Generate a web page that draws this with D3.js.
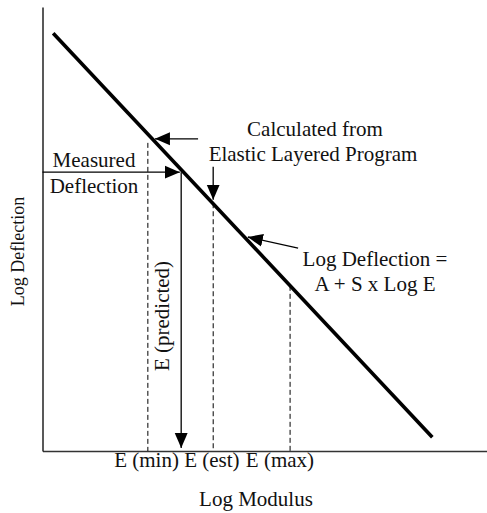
<!DOCTYPE html>
<html>
<head>
<meta charset="utf-8">
<script src="https://cdn.jsdelivr.net/npm/d3@7"></script>
</head>
<body style="margin:0">
<svg id="chart" width="487" height="513"></svg>
<script>
// ---- data (abstract log units) ----
const xDomain = [0, 10];
const yDomain = [0, 10];
const fitLineX = [0.24, 8.77];
const fitLineY = [9.41, 0.31];
const dashedX = [2.37, 3.84, 5.57];
const dashedTop = [6.94, 5.58, 3.72];
const xTickLabels = ["E (min)", "E (est)", "E (max)"];
const xTickLabelPos = [2.33, 3.80, 5.33];
const measuredY = 6.28;
const measuredTipX = 3.09;
const predictedX = 3.12;
const calcArrowX = [3.5, 2.53];
const calcArrowY = [7.03, 7.03];
const estArrowX = [3.84, 3.84];
const estArrowY = [6.4, 5.66];
const eqArrowX = [5.75, 4.62];
const eqArrowY = [4.57, 4.82];
const xTitle = "Log Modulus";
const yTitle = "Log Deflection";

// ---- layout ----
const W = 487, H = 513;
const FONT = "Liberation Serif";
const margin = { left: 42.5, right: 0, top: 7, bottom: 62 };
const svg = d3.select("#chart").style("font-family", FONT).style("background", "#fff");

const x = d3.scaleLinear().domain(xDomain).range([margin.left, W - margin.right]);
const y = d3.scaleLinear().domain(yDomain).range([H - margin.bottom, margin.top]);

// arrowhead marker
svg.append("defs").append("marker")
  .attr("id", "head")
  .attr("markerUnits", "userSpaceOnUse")
  .attr("viewBox", "0 -7 16 14")
  .attr("refX", 15).attr("refY", 0)
  .attr("markerWidth", 16).attr("markerHeight", 14)
  .attr("orient", "auto")
  .append("path").attr("d", "M0,-6.5L15,0L0,6.5Z").attr("fill", "#000");

// axes (no tick marks, only the domain lines and the E labels)
const xAxis = d3.axisBottom(x).tickValues(xTickLabelPos)
  .tickFormat((d, i) => xTickLabels[i]).tickSize(0).tickSizeOuter(0).tickPadding(1.5);
const gx = svg.append("g").attr("transform", `translate(0,${y(0)})`).call(xAxis);
gx.attr("font-family", FONT).attr("font-size", 21);
gx.select(".domain").attr("stroke", "#333").attr("stroke-width", 1.6);
gx.selectAll("text").attr("fill", "#111").style("font-family", FONT);

const yAxis = d3.axisLeft(y).tickValues([]).tickSizeOuter(0);
const gy = svg.append("g").attr("transform", `translate(${x(0)},0)`).call(yAxis);
gy.select(".domain").attr("stroke", "#222").attr("stroke-width", 1.5);

// dashed verticals
svg.append("g").selectAll("line").data(dashedX).join("line")
  .attr("x1", d => x(d)).attr("x2", d => x(d))
  .attr("y1", (d, i) => y(dashedTop[i])).attr("y2", y(0))
  .attr("stroke", "#000").attr("stroke-width", 1)
  .attr("stroke-dasharray", "5,3");

// fitted line
const lineData = fitLineX.map((d, i) => [d, fitLineY[i]]);
svg.append("path")
  .attr("d", d3.line().x(d => x(d[0])).y(d => y(d[1]))(lineData))
  .attr("fill", "none").attr("stroke", "#000").attr("stroke-width", 3.6);

// arrows
function arrow(xs, ys) {
  svg.append("line")
    .attr("x1", x(xs[0])).attr("y1", y(ys[0]))
    .attr("x2", x(xs[1])).attr("y2", y(ys[1]))
    .attr("stroke", "#000").attr("stroke-width", 1.3)
    .attr("marker-end", "url(#head)");
}
arrow([0, measuredTipX], [measuredY, measuredY]);
arrow([predictedX, predictedX], [measuredY, 0.07]);
arrow(calcArrowX, calcArrowY);
arrow(estArrowX, estArrowY);
arrow(eqArrowX, eqArrowY);

// annotation text
function label(txt, px, py, anchor, size, rot) {
  const t = svg.append("text");
  if (rot) t.attr("transform", `translate(${px},${py}) rotate(${rot})`);
  else t.attr("x", px).attr("y", py);
  t.attr("font-size", size || 21)
    .style("font-family", FONT)
    .attr("text-anchor", anchor || "middle")
    .attr("fill", "#111")
    .text(txt);
  return t;
}
label("Calculated from", 315, 136);
label("Elastic Layered Program", 313, 161);
label("Measured", 94, 166.5);
label("Deflection", 94, 193);
label("Log Deflection =", 375, 266);
label("A + S x Log E", 375, 291);
label("E (predicted)", 168.5, 316, "middle", 21, -90);

// axis titles
label(xTitle, 256, 506);
label(yTitle, 24, 251.5, "middle", 18, -90);
</script>
</body>
</html>
